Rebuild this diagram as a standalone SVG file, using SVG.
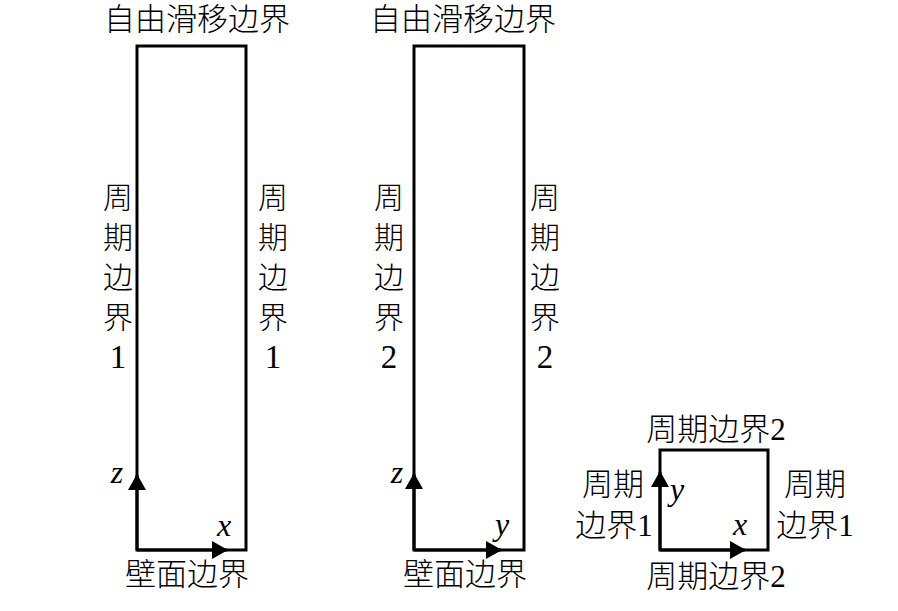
<svg xmlns="http://www.w3.org/2000/svg" width="898" height="611" viewBox="0 0 898 611">
<style>
  .box{fill:none;stroke:#000;stroke-width:3;stroke-linejoin:miter}
  .ax{fill:none;stroke:#000;stroke-width:3}
  .t{font-family:"Liberation Serif","Noto Sans CJK SC",serif;font-size:31px;font-weight:300;fill:#000;text-anchor:middle}
  .v{font-family:"Liberation Serif","Noto Sans CJK SC",serif;font-size:30px;font-weight:300;fill:#000;text-anchor:middle}
  .d{font-size:33px}
  .i{font-family:"Liberation Serif",serif;font-style:italic;font-size:32px;fill:#000;text-anchor:middle}
</style>
<defs>
  <marker id="ah" viewBox="0 0 16 18" refX="15" refY="9" markerWidth="16" markerHeight="18" markerUnits="userSpaceOnUse" orient="auto">
    <path d="M0,0 L16,9 L0,18 Z" fill="#000"/>
  </marker>
</defs>
<rect width="898" height="611" fill="#fff"/>

<g id="domain-xz">
  <rect class="box" x="137" y="46" width="109" height="504"/>
  <text class="t" x="197" y="30">自由滑移边界</text>
  <text class="v"><tspan x="118" y="208">周</tspan><tspan x="118" y="248">期</tspan><tspan x="118" y="288">边</tspan><tspan x="118" y="328">界</tspan><tspan class="d" x="118" y="368">1</tspan></text>
  <text class="v"><tspan x="273" y="208">周</tspan><tspan x="273" y="248">期</tspan><tspan x="273" y="288">边</tspan><tspan x="273" y="328">界</tspan><tspan class="d" x="273" y="368">1</tspan></text>
  <text class="t" x="187" y="585">壁面边界</text>
  <text class="i" x="117" y="483">z</text>
  <text class="i" x="224" y="536">x</text>
</g>

<g id="domain-yz">
  <rect class="box" x="414" y="46" width="110" height="504"/>
  <text class="t" x="463" y="30">自由滑移边界</text>
  <text class="v"><tspan x="389" y="208">周</tspan><tspan x="389" y="248">期</tspan><tspan x="389" y="288">边</tspan><tspan x="389" y="328">界</tspan><tspan class="d" x="389" y="368">2</tspan></text>
  <text class="v"><tspan x="545" y="208">周</tspan><tspan x="545" y="248">期</tspan><tspan x="545" y="288">边</tspan><tspan x="545" y="328">界</tspan><tspan class="d" x="545" y="368">2</tspan></text>
  <text class="t" x="465" y="585">壁面边界</text>
  <text class="i" x="397" y="483">z</text>
  <text class="i" x="502" y="535">y</text>
</g>

<g id="domain-xy">
  <rect class="box" x="660" y="450" width="108" height="100"/>
  <text class="t" x="716" y="440">周期边界2</text>
  <text class="t" x="716" y="587">周期边界2</text>
  <text class="t" x="613" y="495">周期</text>
  <text class="t" x="614" y="536">边界1</text>
  <text class="t" x="815" y="495">周期</text>
  <text class="t" x="815" y="536">边界1</text>
  <text class="i" x="677" y="500">y</text>
  <text class="i" x="740" y="535">x</text>
</g>

<g id="connectors">
  <path class="ax" d="M137,550 L137,475" marker-end="url(#ah)"/>
  <path class="ax" d="M137,550 L227,550" marker-end="url(#ah)"/>
  <path class="ax" d="M414,550 L414,474" marker-end="url(#ah)"/>
  <path class="ax" d="M414,550 L501,550" marker-end="url(#ah)"/>
  <path class="ax" d="M660,550 L660,472" marker-end="url(#ah)"/>
  <path class="ax" d="M660,550 L745,550" marker-end="url(#ah)"/>
</g>
</svg>
